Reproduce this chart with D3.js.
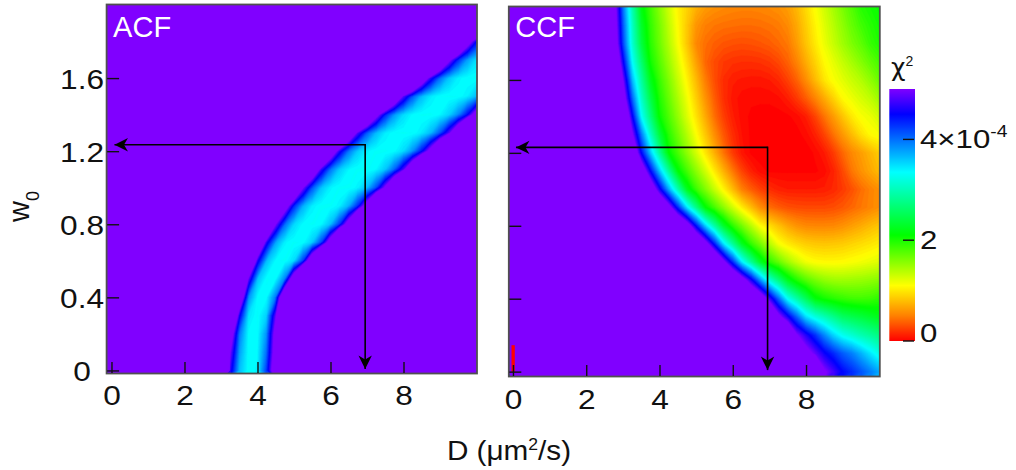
<!DOCTYPE html>
<html><head><meta charset="utf-8">
<script src="https://cdn.jsdelivr.net/npm/d3@7"></script>
<style>
body{margin:0;background:#fff}
svg{display:block}
text{font-family:"Liberation Sans",Arial,Helvetica,sans-serif}
</style>
</head><body>
<svg id="c" width="1016" height="470"></svg>
<script>
// ---------------- data ----------------
// grid of diffusion coefficients D (um^2/s), columns of every chi2 row
const dGrid = [0,0.25,0.5,0.75,1,1.25,1.5,1.75,2,2.25,2.5,2.75,3,3.25,3.5,3.75,4,4.25,4.5,4.75,5,5.25,5.5,5.75,6,6.25,6.5,6.75,7,7.25,7.5,7.75,8,8.25,8.5,8.75,9,9.25,9.5,9.75,10];

// ACF chi2 surface (units of 1e-4), one row per w0 value
const acfW0 = [0,0.1,0.2,0.3,0.4,0.5,0.6,0.7,0.8,0.9,1.0,1.1,1.2,1.3,1.4,1.5,1.6,1.7,1.8,1.9,2.0];
const acfChi2 = [
[8,8,8,8,8,8,8,8,8,8, 8,8,8,4.7,3.66,3.35,3.42,4.24,5.6,8, 8,8,8,8,8,8,8,8,8,8, 8,8,8,8,8,8,8,8,8,8, 8],
[8,8,8,8,8,8,8,8,8,8, 8,8,8,5.0,3.8,3.36,3.39,4.02,5.4,8, 8,8,8,8,8,8,8,8,8,8, 8,8,8,8,8,8,8,8,8,8, 8],
[8,8,8,8,8,8,8,8,8,8, 8,8,8,5.5,3.97,3.38,3.36,3.85,5.3,8, 8,8,8,8,8,8,8,8,8,8, 8,8,8,8,8,8,8,8,8,8, 8],
[8,8,8,8,8,8,8,8,8,8, 8,8,8,6.8,4.59,3.48,3.35,3.57,4.9,7, 8,8,8,8,8,8,8,8,8,8, 8,8,8,8,8,8,8,8,8,8, 8],
[8,8,8,8,8,8,8,8,8,8, 8,8,8,8,5.86,3.87,3.37,3.38,3.97,6.13, 8,8,8,8,8,8,8,8,8,8, 8,8,8,8,8,8,8,8,8,8, 8],
[8,8,8,8,8,8,8,8,8,8, 8,8,8,8,7.88,4.9,3.64,3.35,3.39,3.92, 5.67,8,8,8,8,8,8,8,8,8, 8,8,8,8,8,8,8,8,8,8, 8],
[8,8,8,8,8,8,8,8,8,8, 8,8,8,8,8,6.65,4.64,3.66,3.37,3.35, 3.51,4.23,5.86,8,8,8,8,8,8,8, 8,8,8,8,8,8,8,8,8,8, 8],
[8,8,8,8,8,8,8,8,8,8, 8,8,8,8,8,8,6.27,4.64,3.76,3.41, 3.35,3.37,3.58,4.19,5.49,7.69,8,8,8,8, 8,8,8,8,8,8,8,8,8,8, 8],
[8,8,8,8,8,8,8,8,8,8, 8,8,8,8,8,8,8,6.65,5.0,4.02, 3.53,3.37,3.35,3.39,3.64,4.26,5.43,7.32,8,8, 8,8,8,8,8,8,8,8,8,8, 8],
[8,8,8,8,8,8,8,8,8,8, 8,8,8,8,8,8,8,8,7.15,5.43, 4.33,3.71,3.43,3.35,3.35,3.43,3.71,4.33,5.43,7.15, 8,8,8,8,8,8,8,8,8,8, 8],
[8,8,8,8,8,8,8,8,8,8, 8,8,8,8,8,8,8,8,8,8, 6.35,5.0,4.13,3.62,3.41,3.35,3.35,3.42,3.66,4.16, 5.1,6.5,8,8,8,8,8,8,8,8, 8],
[8,8,8,8,8,8,8,8,8,8, 8,8,8,8,8,8,8,8,8,8, 8,7.5,5.86,4.72,3.99,3.58,3.4,3.35,3.35,3.4, 3.61,4.05,4.81,5.99,7.69,8,8,8,8,8, 8],
[8,8,8,8,8,8,8,8,8,8, 8,8,8,8,8,8,8,8,8,8, 8,8,8,7.15,5.67,4.64,3.97,3.58,3.41,3.35, 3.35,3.38,3.52,3.85,4.44,5.32,6.65,8,8,8, 8],
[8,8,8,8,8,8,8,8,8,8, 8,8,8,8,8,8,8,8,8,8, 8,8,8,8,8,7.41,5.86,4.81,4.1,3.67, 3.44,3.36,3.35,3.36,3.45,3.67,4.13,4.86,5.93,7.5, 8],
[8,8,8,8,8,8,8,8,8,8, 8,8,8,8,8,8,8,8,8,8, 8,8,8,8,8,8,8,8,6.5,5.26, 4.36,3.82,3.52,3.38,3.35,3.35,3.4,3.56,3.89,4.47, 5.43],
[8,8,8,8,8,8,8,8,8,8, 8,8,8,8,8,8,8,8,8,8, 8,8,8,8,8,8,8,8,8,8, 7.41,5.93,4.86,4.13,3.67,3.45,3.36,3.35,3.36,3.44, 3.66],
[8,8,8,8,8,8,8,8,8,8, 8,8,8,8,8,8,8,8,8,8, 8,8,8,8,8,8,8,8,8,8, 8,8,8,7.15,5.67,4.68,4.02,3.62,3.42,3.36, 3.35],
[8,8,8,8,8,8,8,8,8,8, 8,8,8,8,8,8,8,8,8,8, 8,8,8,8,8,8,8,8,8,8, 8,8,8,8,8,8,6.35,5.15,4.33,3.8, 3.5],
[8,8,8,8,8,8,8,8,8,8, 8,8,8,8,8,8,8,8,8,8, 8,8,8,8,8,8,8,8,8,8, 8,8,8,8,8,8,8,8,6.81,5.43, 4.51],
[8,8,8,8,8,8,8,8,8,8, 8,8,8,8,8,8,8,8,8,8, 8,8,8,8,8,8,8,8,8,8, 8,8,8,8,8,8,8,8,8,8, 7.23],
[8,8,8,8,8,8,8,8,8,8, 8,8,8,8,8,8,8,8,8,8, 8,8,8,8,8,8,8,8,8,8, 8,8,8,8,8,8,8,8,8,8, 8]
];

// CCF chi2 surface (units of 1e-4), one row per w0 value
const ccfW0 = [0,0.1,0.2,0.3,0.4,0.5,0.6,0.7,0.8,0.9,1.0,1.1,1.2,1.3,1.4,1.5,1.6,1.7,1.8,1.9,2.0];
const ccfChi2 = [
[6,6,6,6,6,6,6,6,6,6, 6,6,6,6,6,6,6,6,6,6, 6,6,6,6,6,6,6,6,6,6, 6,6,6,6,5.08,4.79,4.5,4.33,4.14,3.95, 3.75],
[6,6,6,6,6,6,6,6,6,6, 6,6,6,6,6,6,6,6,6,6, 6,6,6,6,6,6,6,6,6,6, 6,6,5.23,4.91,4.57,4.34,4.1,3.94,3.71,3.48, 3.25],
[6,6,6,6,6,6,6,6,6,6, 6,6,6,6,6,6,6,6,6,6, 6,6,6,6,6,6,6,6,6,6, 6,5.05,4.66,4.3,3.9,3.55,3.3,3.15,3.0,2.88, 2.75],
[6,6,6,6,6,6,6,6,6,6, 6,6,6,6,6,6,6,6,6,6, 6,6,6,6,6,6,6,6,6,5.18, 4.61,4.06,3.51,3.23,3.02,2.81,2.6,2.51,2.43,2.34, 2.25],
[6,6,6,6,6,6,6,6,6,6, 6,6,6,6,6,6,6,6,6,6, 6,6,6,6,6,6,6,5.54,4.79,4.03, 3.32,2.94,2.56,2.18,2.05,1.97,1.91,1.87,1.86,1.88, 1.95],
[6,6,6,6,6,6,6,6,6,6, 6,6,6,6,6,6,6,6,6,6, 6,6,6,6,6,5.38,4.65,3.87,3.21,2.75, 2.29,2.0,1.8,1.66,1.56,1.51,1.5,1.51,1.53,1.56, 1.6],
[6,6,6,6,6,6,6,6,6,6, 6,6,6,6,6,6,6,6,6,6, 6,6,6,5.17,4.32,3.44,2.87,2.32,1.96,1.73, 1.5,1.32,1.18,1.12,1.1,1.1,1.11,1.14,1.17,1.21, 1.25],
[6,6,6,6,6,6,6,6,6,6, 6,6,6,6,6,6,6,6,6,6, 6,5.29,4.39,3.47,2.87,2.29,1.92,1.66,1.41,1.15, 1.03,0.95,0.89,0.86,0.85,0.86,0.88,0.92,0.96,1.0, 1.05],
[6,6,6,6,6,6,6,6,6,6, 6,6,6,6,6,6,6,6,6,5.38, 4.43,3.57,2.93,2.34,1.94,1.66,1.39,1.11,0.97,0.83, 0.7,0.61,0.56,0.55,0.55,0.56,0.6,0.66,0.72,0.79, 0.85],
[6,6,6,6,6,6,6,6,6,6, 6,6,6,6,6,6,6,5.26,4.33,3.47, 2.8,2.15,1.85,1.57,1.3,1.04,0.81,0.59,0.45,0.38, 0.33,0.31,0.3,0.3,0.3,0.32,0.36,0.42,0.48,0.54, 0.6],
[6,6,6,6,6,6,6,6,6,6, 6,6,6,6,6,5.57,4.62,3.74,2.98,2.27, 1.89,1.62,1.34,1.07,0.8,0.52,0.38,0.27,0.19,0.14, 0.12,0.12,0.12,0.12,0.13,0.17,0.24,0.33,0.44,0.53, 0.6],
[6,6,6,6,6,6,6,6,6,6, 6,6,6,6,5.54,4.5,3.61,2.86,2.16,1.85, 1.57,1.3,1.02,0.75,0.49,0.28,0.14,0.06,0.03,0.03, 0.03,0.03,0.03,0.03,0.06,0.15,0.3,0.48,0.6,0.7, 0.8],
[6,6,6,6,6,6,6,6,6,6, 6,6,6,5.75,4.5,3.61,2.85,2.13,1.84,1.56, 1.29,1.01,0.74,0.47,0.25,0.1,0.03,0.01,0.01,0.01, 0.01,0.01,0.01,0.05,0.12,0.25,0.42,0.56,0.66,0.77, 0.88],
[6,6,6,6,6,6,6,6,6,6, 6,6,6,5.09,3.97,3.1,2.42,1.96,1.68,1.41, 1.13,0.86,0.59,0.36,0.19,0.08,0.03,0.02,0.01,0.01, 0.01,0.02,0.06,0.14,0.28,0.46,0.63,0.8,0.97,1.1, 1.15],
[6,6,6,6,6,6,6,6,6,6, 6,6,5.94,4.56,3.37,2.72,2.09,1.81,1.54,1.26, 0.99,0.72,0.45,0.26,0.13,0.06,0.03,0.02,0.02,0.02, 0.03,0.06,0.13,0.28,0.47,0.65,0.84,1.02,1.14,1.2, 1.3],
[6,6,6,6,6,6,6,6,6,6, 6,6,5.36,4.07,3.12,2.48,1.99,1.71,1.44,1.17, 0.89,0.61,0.38,0.2,0.1,0.06,0.05,0.05,0.05,0.07, 0.13,0.24,0.38,0.54,0.72,0.91,1.1,1.19,1.28,1.37, 1.5],
[6,6,6,6,6,6,6,6,6,6, 6,6,5.0,3.69,2.91,2.26,1.89,1.62,1.34,1.07, 0.79,0.51,0.32,0.19,0.13,0.11,0.1,0.1,0.12,0.17, 0.27,0.4,0.58,0.79,1.0,1.14,1.23,1.33,1.42,1.55, 1.7],
[6,6,6,6,6,6,6,6,6,6, 6,5.94,4.56,3.37,2.68,2.06,1.78,1.51,1.24,0.96, 0.67,0.42,0.31,0.24,0.21,0.2,0.2,0.21,0.24,0.3, 0.4,0.54,0.73,0.91,1.1,1.22,1.35,1.47,1.6,1.73, 1.85],
[6,6,6,6,6,6,6,6,6,6, 6,5.53,4.21,3.17,2.45,1.96,1.69,1.42,1.14,0.85, 0.56,0.45,0.39,0.35,0.33,0.32,0.33,0.35,0.38,0.43, 0.49,0.65,0.84,1.02,1.19,1.34,1.49,1.63,1.75,1.9, 2.0],
[6,6,6,6,6,6,6,6,6,6, 6,5.41,4.12,3.1,2.34,1.92,1.65,1.37,1.1,0.86, 0.62,0.52,0.48,0.46,0.45,0.44,0.44,0.45,0.47,0.5, 0.57,0.71,0.89,1.07,1.24,1.4,1.56,1.72,1.86,1.97, 2.05],
[6,6,6,6,6,6,6,6,6,6, 6,5.32,4.0,2.99,2.2,1.86,1.58,1.31,1.06,0.91, 0.75,0.65,0.6,0.57,0.55,0.54,0.54,0.55,0.57,0.6, 0.66,0.78,0.95,1.13,1.3,1.47,1.64,1.8,1.97,2.04, 2.1]
];
// small strip of near-zero chi2 cells at D = 0 in the CCF map
const ccfEdgeCells = [{d0:-0.04, d1:0.05, w0a:0, w0b:0.145, chi2:0}];

// best-fit point marked with arrows
const bestFit = [{panel:"ACF", D:6.95, w0:1.235}, {panel:"CCF", D:6.95, w0:1.23}];

const xTicks = [0,2,4,6,8];
const yTicks = [0,0.4,0.8,1.2,1.6];
const cbTicks = [0,2,4];
const cbTickLabels = ["0","2","4\u00d710"];
const cbMax = 5;

// ---------------- drawing ----------------
const TX = 1.13;   // horizontal stretch of the figure's lettering
const svg = d3.select("#c");
svg.append("rect").attr("width",1016).attr("height",470).attr("fill","#fff");
const defs = svg.append("defs");
defs.append("marker").attr("id","ah").attr("viewBox","-14 -8 15 16")
  .attr("refX",0).attr("refY",0).attr("markerWidth",15).attr("markerHeight",16)
  .attr("markerUnits","userSpaceOnUse").attr("orient","auto")
  .append("path").attr("d","M0,0L-13.5,-6.7L-9.5,0L-13.5,6.7Z").attr("fill","#000");

const color = d3.scaleLinear()
  .domain([0,0.5,1.1,2.1,3.35,4.5,5])
  .range(["#ff0000","#ff8000","#ffff00","#00ff00","#00ffff","#0000ff","#8000ff"])
  .clamp(true);
const levels = d3.range(0, cbMax + 1e-9, 0.04);

const panels = [
  {name:"ACF", rows:acfW0, chi2:acfChi2,
   x:d3.scaleLinear().domain([-0.12,10]).range([107.1,476.5]),
   y:d3.scaleLinear().domain([-0.014,2.0]).range([373,5]), yLabels:true, pad:12},
  {name:"CCF", rows:ccfW0, chi2:ccfChi2,
   x:d3.scaleLinear().domain([-0.1,10]).range([509.3,879.3]),
   y:d3.scaleLinear().domain([-0.024,2.0]).range([376,7]), yLabels:false, pad:13}
];

panels.forEach((p,k) => {
  const n = dGrid.length, m = p.rows.length;
  const [x0,x1] = p.x.range(); const [yb,yt] = p.y.range();
  const g = svg.append("g");
  defs.append("clipPath").attr("id","clip"+k).append("rect")
    .attr("x",x0).attr("y",yt).attr("width",x1-x0).attr("height",yb-yt);
  const hg = g.append("g").attr("clip-path",`url(#clip${k})`);
  hg.append("rect").attr("x",x0).attr("y",yt).attr("width",x1-x0).attr("height",yb-yt).attr("fill",color(cbMax));
  const gx = d3.scaleLinear().domain([0.5, n-0.5]).range([dGrid[0], dGrid[n-1]]);
  const gy = d3.scaleLinear().domain([0.5, m-0.5]).range([p.rows[0], p.rows[m-1]]);
  const proj = d3.geoTransform({point(a,b){ this.stream.point(p.x(gx(a)), p.y(gy(b))); }});
  const path = d3.geoPath(proj);
  const cs = d3.contours().size([n,m]).thresholds(levels)(p.chi2.flat());
  hg.selectAll("path.c").data(cs).join("path").attr("class","c")
    .attr("d",path).attr("fill",d=>color(d.value)).attr("stroke",d=>color(d.value)).attr("stroke-width",0.3);
  if (p.name === "CCF") {
    hg.selectAll("rect.cell").data(ccfEdgeCells).join("rect").attr("class","cell")
      .attr("x",d=>p.x(d.d0)).attr("width",d=>p.x(d.d1)-p.x(d.d0))
      .attr("y",d=>p.y(d.w0b)).attr("height",d=>p.y(d.w0a)-p.y(d.w0b))
      .attr("fill",d=>color(d.chi2));
  }
  // frame
  g.append("rect").attr("x",x0-0.5).attr("y",yt-0.5).attr("width",x1-x0+1).attr("height",yb-yt+1)
    .attr("fill","none").attr("stroke","#505050").attr("stroke-width",1.8);
  // axes
  const xa = g.append("g").attr("transform",`translate(0,${yb})`)
    .call(d3.axisBottom(p.x).tickValues(xTicks).tickSizeInner(-11).tickSizeOuter(0).tickPadding(p.pad).tickFormat(d3.format("d")));
  const ya = g.append("g").attr("transform",`translate(${x0},0)`)
    .call(d3.axisLeft(p.y).tickValues(yTicks).tickSizeInner(-12).tickSizeOuter(0).tickPadding(25)
      .tickFormat(p.yLabels ? (d=>d===0?"0":d3.format(".1f")(d)) : ""));
  [xa,ya].forEach(a => {
    a.select(".domain").remove();
    a.attr("font-size",null).attr("font-family",null);
    a.selectAll("line").attr("stroke","#111").attr("stroke-width",1.4);
    a.selectAll("text").attr("fill","#111").style("font-size","28px").attr("transform",`scale(${TX},1)`);
  });
  ya.selectAll("text").attr("text-anchor","middle").attr("x",-25/TX).attr("dy","0.36em");
  // arrows at best fit
  bestFit.filter(b=>b.panel===p.name).forEach(b => {
    const cx = p.x(b.D), cy = p.y(b.w0);
    g.append("line").attr("x1",cx).attr("y1",cy).attr("x2",p.x(0)+3).attr("y2",cy)
      .attr("stroke","#000").attr("stroke-width",1.6).attr("marker-end","url(#ah)");
    g.append("line").attr("x1",cx).attr("y1",cy-0.8).attr("x2",cx).attr("y2",p.y(0)-1.5)
      .attr("stroke","#000").attr("stroke-width",1.6).attr("marker-end","url(#ah)");
  });
  // panel name
  g.append("text").attr("x",x0+6).attr("y",37).attr("fill","#fff").style("font-size","29px").text(p.name);
});

// colour bar
const cbY = d3.scaleLinear().domain([0,cbMax]).range([341,89]);
const grad = defs.append("linearGradient").attr("id","cbg").attr("x1",0).attr("y1",1).attr("x2",0).attr("y2",0);
d3.range(0,101).forEach(i => grad.append("stop").attr("offset",i/100).attr("stop-color",color(cbMax*i/100)));
svg.append("rect").attr("x",889.3).attr("y",cbY(cbMax)).attr("width",25.7).attr("height",cbY(0)-cbY(cbMax)).attr("fill","url(#cbg)");
const cbA = svg.append("g");
cbA.selectAll("line").data(cbTicks).join("line")
  .attr("x1",903).attr("x2",914).attr("y1",d=>cbY(d)).attr("y2",d=>cbY(d))
  .attr("stroke","#111").attr("stroke-width",1.4);
const cbT = cbA.selectAll("text").data(cbTicks).join("text")
  .attr("transform",(d,i)=>`translate(920,${i===0 ? cbY(d)+0.5 : cbY(d)+9}) scale(1.2,1)`)
  .attr("fill","#111").style("font-size","26px");
cbT.append("tspan").text((d,i)=>cbTickLabels[i]);
cbT.filter((d,i)=>i===cbTicks.length-1).append("tspan").attr("dy",-11).style("font-size","16px").text("-4");
const chi = svg.append("text").attr("x",891).attr("y",76).attr("fill","#111").style("font-size","25px");
chi.append("tspan").style("font-family","'DejaVu Sans'").text("\u03c7");
chi.append("tspan").attr("dy",-10).style("font-size","14px").text("2");

// axis titles
const yl = svg.append("text").attr("transform","translate(28.5,222) rotate(-90)").attr("fill","#111").style("font-size","29px");
yl.append("tspan").text("w");
yl.append("tspan").attr("dy",10).style("font-size","18px").text("0");
const xl = svg.append("text").attr("transform","translate(509,460) scale(1.1,1)").attr("text-anchor","middle").attr("fill","#111").style("font-size","27px");
xl.append("tspan").text("D (\u03bcm");
xl.append("tspan").attr("dy",-10).style("font-size","16px").text("2");
xl.append("tspan").attr("dy",10).text("/s)");
</script>
</body></html>
